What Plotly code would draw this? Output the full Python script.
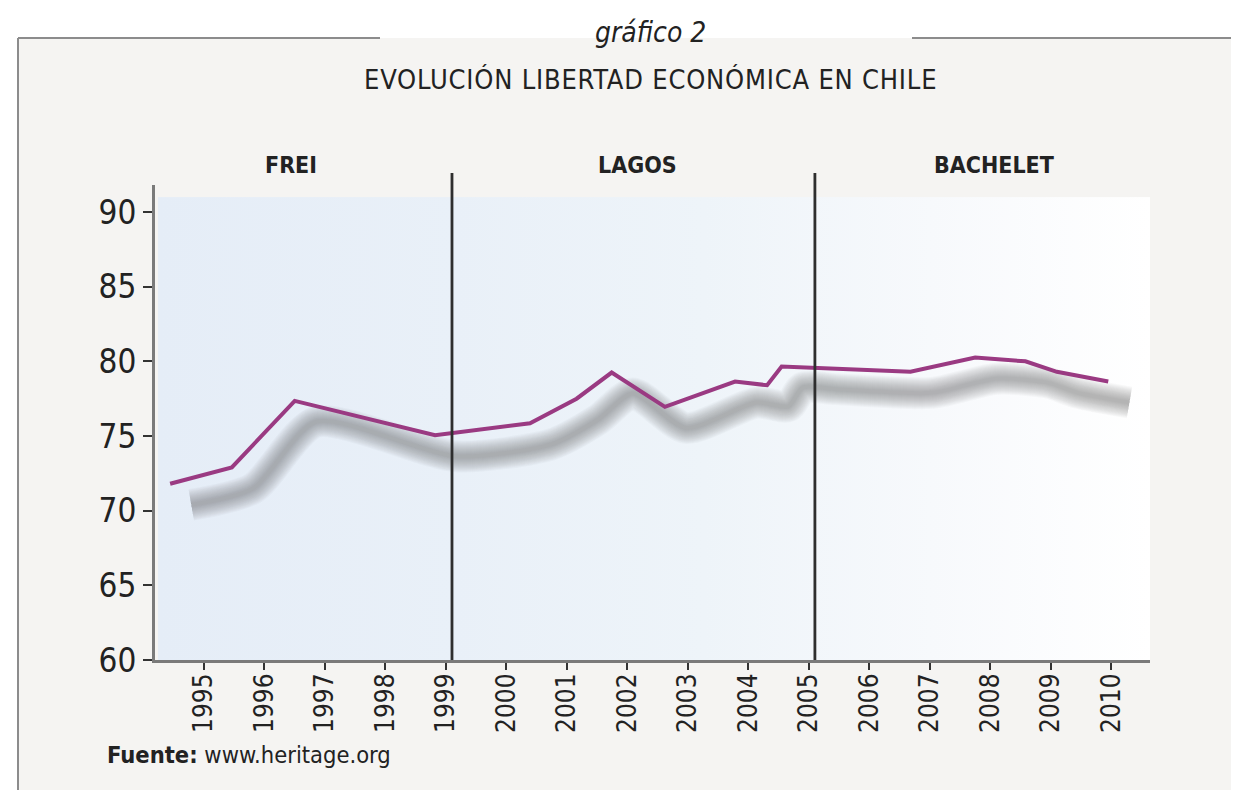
import plotly.graph_objects as go
import base64

# ---------------- data ----------------
years = [1994.44, 1995.46, 1996.50, 1998.82, 2000.39, 2001.16, 2001.74, 2002.62,
         2003.78, 2004.31, 2004.55, 2005.10, 2006.68, 2007.75, 2008.58, 2009.10, 2009.95]
score = [71.8, 72.9, 77.35, 75.05, 75.85, 77.5, 79.25, 76.95,
         78.65, 78.4, 79.65, 79.55, 79.3, 80.25, 80.0, 79.3, 78.65]

tick_years = [1995, 1996, 1997, 1998, 1999, 2000, 2001, 2002,
              2003, 2004, 2005, 2006, 2007, 2008, 2009, 2010]
tick_labels = [str(y) for y in tick_years]
y_ticks = [60, 65, 70, 75, 80, 85, 90]

periods = ["FREI", "LAGOS", "BACHELET"]
period_breaks = [1999.1, 2005.1]

# ---------------- layout geometry (reference pixel coords) ----------------
OFF = 8                      # page body margin of the html page
W, H = 1239, 790
L, R, T, B = 155, 1150, 185, 660
XR = [1994.19, 2010.64]
YR = [60, 91.81]
SHADOW_DX, SHADOW_DY = 0.35, 1.41

NARROW = "DejaVu Sans Condensed, DejaVu Sans, sans-serif"
LINE_COLOR = "#9a3a82"


def px(xp):
    return (xp - L) / (R - L)


def py(yp):
    return (B - yp) / (B - T)


fig = go.Figure()

# blurred shadow (same data, drawn on offset overlay axes)
for w in range(32, 3, -2):
    fig.add_trace(go.Scatter(x=years, y=score, mode="lines", xaxis="x2", yaxis="y2",
                             line=dict(color="rgba(100,104,108,0.038)", width=w, shape="spline", smoothing=0.7),
                             hoverinfo="skip", showlegend=False))

# main line
fig.add_trace(go.Scatter(x=years, y=score, mode="lines", xaxis="x3", yaxis="y3",
                         line=dict(color=LINE_COLOR, width=4),
                         showlegend=False, name="Libertad económica"))

# gradient background of the plot area (svg image)
svg = ('<svg xmlns="http://www.w3.org/2000/svg" width="100" height="100" preserveAspectRatio="none">'
       '<defs><linearGradient id="g" x1="0" y1="0" x2="1" y2="0">'
       '<stop offset="0" stop-color="#e5edf7"/>'
       '<stop offset="0.3" stop-color="#e9f0f8"/>'
       '<stop offset="0.55" stop-color="#eef4f9"/>'
       '<stop offset="0.78" stop-color="#f7f9fc"/>'
       '<stop offset="1" stop-color="#ffffff"/>'
       '</linearGradient></defs><rect width="100" height="100" fill="url(#g)"/></svg>')
src = "data:image/svg+xml;base64," + base64.b64encode(svg.encode()).decode()

shapes = []
# white strips outside the panel
shapes.append(dict(type="rect", xref="paper", yref="paper", x0=px(0), x1=px(W), y0=py(38), y1=py(0),
                   fillcolor="white", line=dict(width=0), layer="below"))
shapes.append(dict(type="rect", xref="paper", yref="paper", x0=px(0), x1=px(18), y0=py(H), y1=py(38),
                   fillcolor="white", line=dict(width=0), layer="below"))
# frame lines
frame = dict(color="#8c8c8c", width=2)
shapes.append(dict(type="line", xref="paper", yref="paper", x0=px(18), x1=px(18), y0=py(H + 10), y1=py(38), line=frame))
shapes.append(dict(type="line", xref="paper", yref="paper", x0=px(18), x1=px(380), y0=py(38), y1=py(38), line=frame))
shapes.append(dict(type="line", xref="paper", yref="paper", x0=px(912), x1=px(W + 10), y0=py(38), y1=py(38), line=frame))
# period separators
for b in period_breaks:
    shapes.append(dict(type="line", xref="x", yref="paper", x0=b, x1=b, y0=0, y1=py(173),
                       line=dict(color="#2e2e2e", width=2.8), layer="above"))

annotations = []
annotations.append(dict(text="<i>gráfico 2</i>", xref="paper", yref="paper", x=px(650), y=py(33),
                        showarrow=False, font=dict(family=NARROW, size=28, color="#222"),
                        xanchor="center", yanchor="middle"))
annotations.append(dict(text='<span style="letter-spacing:0.8px">EVOLUCIÓN LIBERTAD ECONÓMICA EN CHILE</span>',
                        xref="paper", yref="paper", x=px(650), y=py(80), showarrow=False,
                        font=dict(family=NARROW, size=27, color="#222"), xanchor="center", yanchor="middle"))
for name, xc in zip(periods, [291, 637, 994]):
    annotations.append(dict(text="<b>" + name + "</b>", xref="paper", yref="paper", x=px(xc), y=py(165),
                            showarrow=False, font=dict(family=NARROW, size=23, color="#222"),
                            xanchor="center", yanchor="middle"))
annotations.append(dict(text="<b>Fuente:</b> www.heritage.org", xref="paper", yref="paper",
                        x=px(105), y=py(755), showarrow=False, xanchor="left", yanchor="middle",
                        font=dict(family=NARROW, size=23.5, color="#222")))

fig.update_layout(
    width=W - OFF, height=H - OFF,
    margin=dict(l=L - OFF, r=W - R, t=T - OFF, b=H - B, pad=0),
    paper_bgcolor="#f5f4f2", plot_bgcolor="rgba(0,0,0,0)",
    showlegend=False,
    xaxis=dict(range=XR, tickmode="array", tickvals=tick_years, ticktext=tick_labels, tickangle=-90,
               showgrid=False, zeroline=False, showline=True, linecolor="#7a7a7a", linewidth=3,
               ticks="outside", ticklen=7, tickwidth=2, tickcolor="#333", ticklabelstandoff=-7,
               tickfont=dict(family=NARROW, size=26, color="#222")),
    yaxis=dict(range=YR, tickmode="array", tickvals=y_ticks, showgrid=False, zeroline=False,
               showline=True, linecolor="#7a7a7a", linewidth=3,
               ticks="outside", ticklen=9, tickwidth=2, tickcolor="#333",
               tickfont=dict(family=NARROW, size=33, color="#222")),
    xaxis2=dict(overlaying="x", range=[XR[0] - SHADOW_DX, XR[1] - SHADOW_DX], visible=False),
    yaxis2=dict(overlaying="y", range=[YR[0] + SHADOW_DY, YR[1] + SHADOW_DY], visible=False),
    xaxis3=dict(overlaying="x", range=XR, visible=False),
    yaxis3=dict(overlaying="y", range=YR, visible=False),
    images=[dict(source=src, xref="x", yref="y", x=XR[0] + 0.05, y=91.0, sizex=XR[1] - XR[0] - 0.05,
                 sizey=31.0, sizing="stretch", layer="below", xanchor="left", yanchor="top")],
    shapes=shapes,
    annotations=annotations,
)

fig.write_html("out.html")
